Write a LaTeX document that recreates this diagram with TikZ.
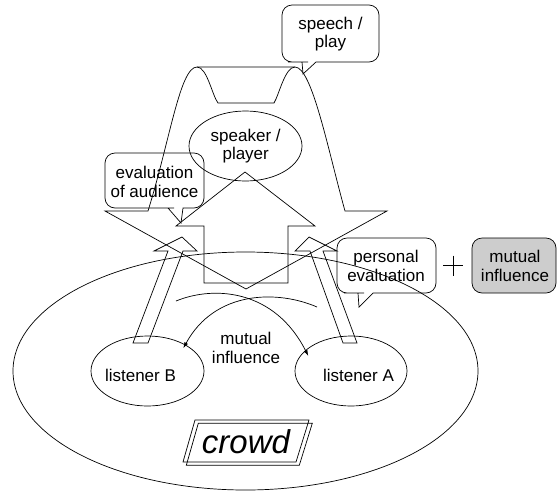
\documentclass[tikz,border=0pt]{standalone}
\usepackage{fontspec}
\setmainfont{Liberation Sans}
\usetikzlibrary{shapes.geometric,arrows.meta}
\begin{document}
\begin{tikzpicture}[x=1pt,y=-1pt,line width=0.7pt,
  lbl/.style={font=\fontsize{17}{18.5}\selectfont,align=center,inner sep=0pt},
  ell/.style={draw,ellipse,inner sep=0pt},
  shapeline/.style={draw,line join=miter},
  infl/.style={-{Latex[length=6pt,width=4pt]}},
  grayfill/.style={fill={rgb,255:red,205;green,205;blue,205}}]
\useasboundingbox[fill=white] (0,0) rectangle (557,491);

% crowd ellipse
\node[ell,minimum width=465pt,minimum height=238pt] (crowdell) at (245.5,371) {};

% listeners and speaker
\node[ell,minimum width=113pt,minimum height=70pt] (lb) at (147.5,371) {};
\node[ell,minimum width=112pt,minimum height=70pt] (la) at (351,371) {};
\node[ell,minimum width=113pt,minimum height=70pt] (sp) at (245.5,146) {};
\node[lbl] (lbt) at (140.5,375) {listener B};
\node[lbl] (lat) at (358.5,375) {listener A};
\node[lbl] (spt) at (245.7,146) {speaker /\\player};

% speech wave / star
\draw[shapeline] (105,211) -- (148,211) .. controls (170,140) and (180,67) .. (197,67)
  -- (295,67) .. controls (312,67) and (328,150) .. (345,211) -- (387,211) -- (246,289) -- cycle;
\draw[shapeline] (197,67) .. controls (207,67) and (212,95) .. (218,103) -- (274,103)
  .. controls (279,95) and (285,67) .. (295,67);

% big block arrow
\draw[shapeline] (245,172) -- (315,226) -- (288,226) -- (288,283) -- (204,283) -- (204,226) -- (176,226) -- cycle;

% small block arrows
\draw[shapeline] (133,343) -- (168,251) -- (154,251) -- (182,237) -- (197,251) -- (183,251) -- (148,343) -- cycle;
\draw[shapeline] (343,343) -- (310,251) -- (295,251) -- (309,237) -- (337,251) -- (323,251) -- (357,343) -- cycle;

% mutual influence arcs
\coordinate (m1s) at (176,301);
\coordinate (m1e) at (308.3,356);
\coordinate (m2s) at (317,307);
\coordinate (m2e) at (183.3,348.3);
\draw[infl] (m1s) .. controls (215,285) and (275,290) .. (m1e);
\draw[infl] (m2s) .. controls (278,290) and (215,290) .. (m2e);
\node[lbl] (mit) at (246,348) {mutual\\influence};

% callouts
\node[lbl] (speech) at (330.5,34) {speech /\\play};
\draw[shapeline] (298,62) -- (302,62) -- (303,74) -- (316,62) -- (320,62) [rounded corners=10pt]
  -- (379,62) -- (379,5) -- (282,5) -- (282,62) -- cycle;

\node[lbl] (evalaud) at (154.5,182) {evaluation\\of audience};
\draw[shapeline] (164,208) -- (168,208) -- (181,223) -- (183,208) -- (187,208) [rounded corners=10pt]
  -- (204,208) -- (204,153) -- (105,153) -- (105,208) -- cycle;

\node[lbl] (peval) at (386,266) {personal\\evaluation};
\draw[shapeline] (354,293) -- (358,293) -- (359,307) -- (373,293) -- (377,293) [rounded corners=10pt]
  -- (436,293) -- (436,238) -- (337,238) -- (337,293) -- cycle;

% plus
\draw[line width=0.8pt] (443,265.5) -- (463,265.5) (453,255.5) -- (453,275.5);

% gray box
\draw[grayfill,rounded corners=10pt] (472,238) rectangle (556,293);
\node[lbl] (mibox) at (515,266) {mutual\\influence};

% crowd label
\draw (195,420) -- (309,420) -- (296,462) -- (183,462) -- cycle;
\draw (198.3,423.3) -- (312.3,423.3) -- (299.3,465.3) -- (186.3,465.3) -- cycle;
\node[font=\fontsize{33}{36}\selectfont\itshape,inner sep=0pt] (crowd) at (246,442) {crowd};
\end{tikzpicture}
\end{document}
